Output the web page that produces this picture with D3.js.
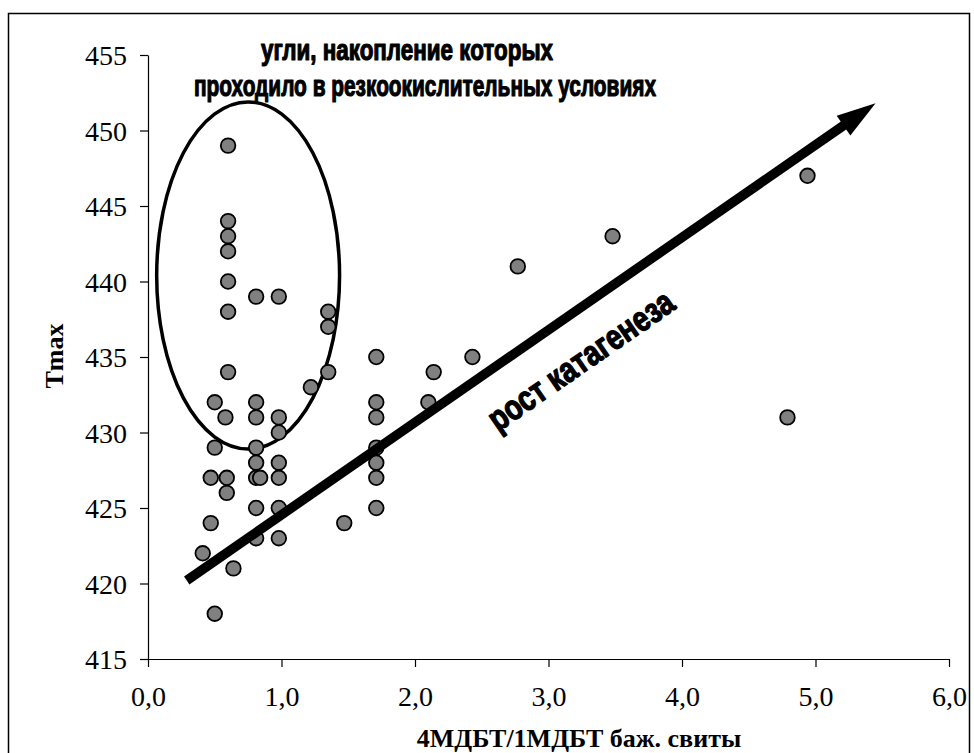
<!DOCTYPE html>
<html><head><meta charset="utf-8">
<script src="https://cdn.jsdelivr.net/npm/d3@7"></script>
<style>html,body{margin:0;padding:0;background:#fff;}</style>
</head><body>
<svg id="chart" width="974" height="753"></svg>
<script>
// ---- data ----
const xValues = [0.60,0.60,0.60,0.60,0.60,0.81,0.98,0.60,1.35,1.35,1.71,0.60,1.35,1.22,1.71,0.50,0.81,0.58,0.81,0.98,1.71,0.98,0.50,0.81,1.71,0.81,0.98,1.71,0.47,0.59,0.81,0.84,0.98,1.71,0.59,0.81,0.98,1.71,0.47,1.47,0.81,0.98,0.41,0.64,0.50,2.77,3.48,2.43,2.14,2.10,4.94,4.79];
const yValues = [449,444,443,442,440,439,439,438,438,437,435,434,434,433,432,432,432,431,431,431,431,430,429,429,429,428,428,428,427,427,427,427,427,427,426,425,425,425,424,424,423,423,422,421,418,441,443,435,434,432,447,431];
const xTicks = [0,1,2,3,4,5,6];
const xTickLabels = ["0,0","1,0","2,0","3,0","4,0","5,0","6,0"];
const yTicks = [415,420,425,430,435,440,445,450,455];
const xTitle = "4МДБТ/1МДБТ баж. свиты";
const yTitle = "Tmax";
const noteLines = ["угли, накопление которых","проходило в резкоокислительных условиях"];
const arrowLabel = "рост катагенеза";
// annotation anchors in data units
const arrowFrom = [0.29, 420.2];
const arrowTo = [5.45, 451.8];
const ellipseCenter = [0.75, 440.4];
const ellipseRadii = [0.685, 11.49];

const svg = d3.select("#chart");
const x = d3.scaleLinear().domain([0,6]).range([148,949]);
const y = d3.scaleLinear().domain([415,455]).range([659,55]);

// frame
svg.append("rect").attr("x",8.5).attr("y",13.5).attr("width",961).attr("height",800)
  .attr("fill","none").attr("stroke","#000").attr("stroke-width",1.5);

// axes
const serif = "'Liberation Serif','Times New Roman',serif";
const xAxis = svg.append("g").attr("transform","translate(0,659)")
  .call(d3.axisBottom(x).tickValues(xTicks).tickFormat((d,i)=>xTickLabels[i]).tickSize(8).tickSizeOuter(0).tickPadding(22));
const yAxis = svg.append("g").attr("transform","translate(148,0)")
  .call(d3.axisLeft(y).tickValues(yTicks).tickFormat(d3.format("d")).tickSize(8).tickSizeOuter(0).tickPadding(13));
[xAxis,yAxis].forEach(g=>{
  g.attr("font-family",serif).attr("font-size",28);
  g.selectAll("path.domain").attr("stroke","#000").attr("stroke-width",1.2);
  g.selectAll(".tick line").attr("stroke","#000").attr("stroke-width",1.2);
  g.selectAll("text").style("font-family",serif).style("font-size","28px").attr("fill","#000");
});
yAxis.selectAll("text").attr("dy","0.34em");
xAxis.selectAll("text").attr("dy","0.6em");

// axis titles
svg.append("text").attr("x",579).attr("y",747).attr("text-anchor","middle")
  .style("font-family",serif).attr("font-weight","bold").style("font-size","26px").text(xTitle);
svg.append("text").attr("transform","translate(63,356) rotate(-90)").attr("text-anchor","middle")
  .style("font-family",serif).attr("font-weight","bold").style("font-size","26px").text(yTitle);

// ellipse
svg.append("ellipse")
  .attr("cx",x(ellipseCenter[0])).attr("cy",y(ellipseCenter[1]))
  .attr("rx",x(ellipseRadii[0])-x(0)).attr("ry",y(415)-y(415+ellipseRadii[1]))
  .attr("fill","none").attr("stroke","#000").attr("stroke-width",3.5);

// points
const pts = xValues.map((v,i)=>({x:v,y:yValues[i]}));
svg.append("g").selectAll("circle").data(pts).join("circle")
  .attr("cx",d=>x(d.x)).attr("cy",d=>y(d.y)).attr("r",7.3)
  .attr("fill","#808080").attr("stroke","#000").attr("stroke-width",1.8);

// arrow
const x0=x(arrowFrom[0]), y0=y(arrowFrom[1]), x1=x(arrowTo[0]), y1=y(arrowTo[1]);
const ang = Math.atan2(y1-y0,x1-x0);
const headLen=39, headHalf=12;
const bx = x1-headLen*Math.cos(ang), by = y1-headLen*Math.sin(ang);
svg.append("line").attr("x1",x0).attr("y1",y0).attr("x2",bx+4*Math.cos(ang)).attr("y2",by+4*Math.sin(ang))
  .attr("stroke","#000").attr("stroke-width",9.5);
svg.append("polygon").attr("points",[
  [x1,y1],
  [bx+headHalf*Math.sin(ang), by-headHalf*Math.cos(ang)],
  [bx-headHalf*Math.sin(ang), by+headHalf*Math.cos(ang)]
].map(p=>p.join(",")).join(" ")).attr("fill","#000");

// arrow label
const narrow = "'Liberation Sans Narrow','Arial Narrow','Liberation Sans',sans-serif";
const angDeg = ang*180/Math.PI;
svg.append("text").attr("transform",`translate(${x(3.24)},${y(434.8)}) rotate(${angDeg})`)
  .attr("text-anchor","middle").attr("dy","0.35em")
  .style("font-family",narrow).attr("font-weight","bold").style("font-size","35px")
  .attr("stroke","#000").attr("stroke-width",1.4).attr("stroke-linejoin","round")
  .attr("textLength",218).attr("lengthAdjust","spacingAndGlyphs").text(arrowLabel);

// note
const noteX=[407,425], noteY=[60,96], noteW=[292,462];
noteLines.forEach((t,i)=>{
  svg.append("text").attr("x",noteX[i]).attr("y",noteY[i]).attr("text-anchor","middle")
    .style("font-family",narrow).attr("font-weight","bold").style("font-size","29px")
    .attr("stroke","#000").attr("stroke-width",1.2).attr("stroke-linejoin","round")
    .attr("textLength",noteW[i]).attr("lengthAdjust","spacingAndGlyphs").text(t);
});
</script>
</body></html>
